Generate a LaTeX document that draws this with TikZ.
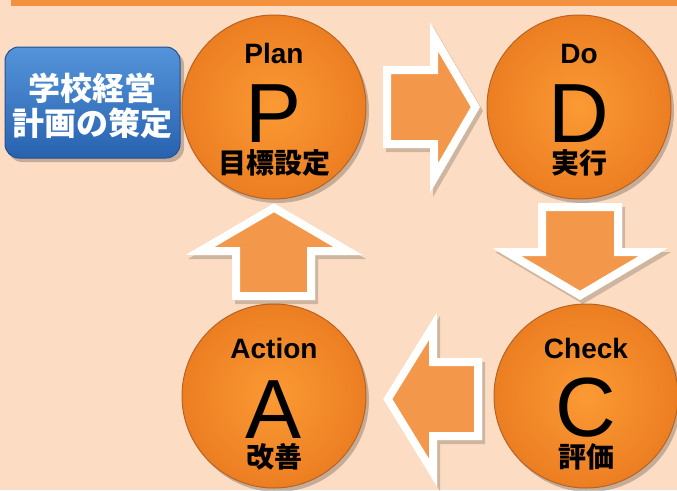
\documentclass[tikz,border=0pt]{standalone}
\usepackage{fontspec}
\setmainfont{Liberation Sans}
\newfontfamily\cjk{Noto Sans CJK JP}
\definecolor{bg}{RGB}{252,221,196}
\definecolor{frameor}{RGB}{243,145,62}
\definecolor{arrowor}{RGB}{243,151,74}
\definecolor{ballin}{RGB}{251,154,52}
\definecolor{ballout}{RGB}{236,126,34}
\definecolor{ballrim}{RGB}{185,98,35}
\definecolor{bluetop}{RGB}{84,148,218}
\definecolor{bluebot}{RGB}{40,98,175}
\definecolor{blueedge}{RGB}{35,80,145}
\newcommand\blockarrow[1]{%
  \fill[black,opacity=.18,shift={(3,4)}] #1;
  \fill[white] #1;
  \begin{scope}
    \clip #1;
    \filldraw[fill=arrowor,draw=white,line width=16pt,line join=miter] #1;
  \end{scope}}
\begin{document}
\begin{tikzpicture}[x=1pt,y=-1pt,
  ball/.style={circle,minimum size=184pt,inner sep=0pt,shade,inner color=ballin,outer color=ballout,draw=ballrim,line width=1pt},
  ballshadow/.style={black,opacity=.22},
  eng/.style={font=\fontsize{28}{28}\selectfont\bfseries,anchor=base,inner sep=0pt},
  big/.style={font=\fontsize{84}{84}\selectfont,anchor=base,inner sep=0pt},
  jp/.style={font=\cjk\bfseries\fontsize{28}{28}\selectfont,anchor=base,inner sep=0pt},
  bluebox/.style={rounded corners=14pt,minimum width=175pt,minimum height=111pt,inner sep=0pt,shade,top color=bluetop,bottom color=bluebot,draw=blueedge,line width=1pt},
  bluetext/.style={font=\cjk\bfseries\fontsize{32}{35}\selectfont,align=center,inner sep=0pt}]
\useasboundingbox (0,0) rectangle (677,490);
\fill[bg] (0,0) rectangle (677,490);
\begin{scope}
  \clip (0,0) rectangle (677,490);
  \draw[frameor,line width=5.5pt] (13.5,-50) rectangle (720,3);
\end{scope}

% blue box
\fill[black,opacity=.22,rounded corners=14pt] (8,51) rectangle (184,162);
\node[bluebox] (S) at (92.5,102.5) {};
\node[bluetext,text=white] (St) at (92.5,105.5) {学校経営\\計画の策定};

% ball shadows
\fill[ballshadow] (277,111) circle (92);
\fill[ballshadow] (582,111) circle (92);
\fill[ballshadow] (277,400) circle (92);
\fill[ballshadow] (589,400) circle (92);

% balls
\node[ball] (P) at (274,107) {};
\node[ball] (D) at (579,107) {};
\node[ball] (A) at (274,396) {};
\node[ball] (C) at (586,396) {};

% texts
\node[eng] at (274,63) {Plan};
\node[big] at (274,142) {P};
\node[jp]  at (274,173) {目標設定};
\node[eng] at (579,63) {Do};
\node[big] at (579,142) {D};
\node[jp]  at (579,173) {実行};
\node[eng] at (274,358) {Action};
\node[big] at (274,438) {A};
\node[jp]  at (274,467) {改善};
\node[eng] at (586,358) {Check};
\node[big] at (586,436) {C};
\node[jp]  at (586,467) {評価};

% block arrows
\blockarrow{(383,66) -- (430,66) -- (430,22) -- (480,107) -- (430,193) -- (430,148) -- (383,148) -- cycle}
\blockarrow{(538,203) -- (622,203) -- (622,248) -- (668,248) -- (580,300) -- (492,248) -- (538,248) -- cycle}
\blockarrow{(482,358) -- (437,358) -- (437,312) -- (383,399) -- (437,487) -- (437,440) -- (482,440) -- cycle}
\blockarrow{(232,300) -- (232,255) -- (185,255) -- (274,203) -- (363,255) -- (315,255) -- (315,300) -- cycle}
\end{tikzpicture}
\end{document}
